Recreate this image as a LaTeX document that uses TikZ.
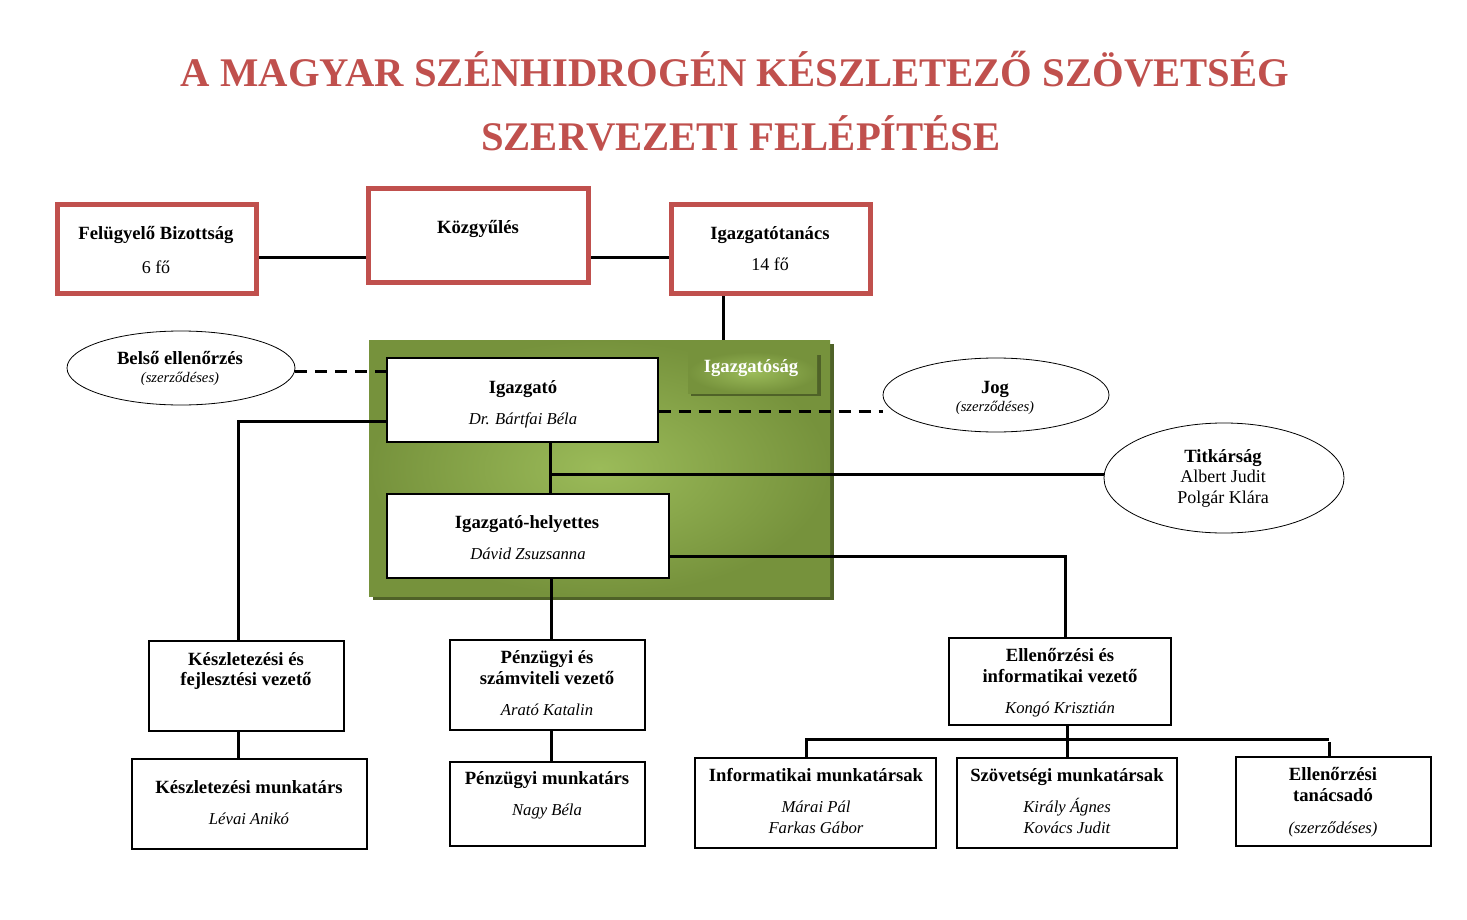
\documentclass[tikz,border=0pt]{standalone}
\usepackage{fontspec}
\setmainfont{Liberation Serif}
\usetikzlibrary{shapes.geometric,fit,backgrounds}
\definecolor{redA}{HTML}{C0504D}
\definecolor{gLight}{HTML}{9BBB59}
\definecolor{gDark}{HTML}{76923C}
\definecolor{gShadow}{HTML}{4F6228}
\begin{document}
\begin{tikzpicture}[x=0.75pt,y=-0.75pt,
  redbox/.style={draw=redA, line width=3.75pt, fill=white, inner sep=0pt},
  wbox/.style={draw=black, line width=0.8pt, fill=white, inner sep=0pt},
  oval/.style={ellipse, draw=black, line width=0.6pt, fill=white, inner sep=0pt},
  conn/.style={line width=2.25pt, black},
  dconn/.style={line width=2.25pt, black, dash pattern=on 9pt off 6pt},
  tb/.style={inner sep=0pt, text height=9.3pt, text depth=0pt, font=\fontsize{14}{16}\selectfont\bfseries},
  tw/.style={tb, text=white},
  ti/.style={inner sep=0pt, text height=8.3pt, text depth=0pt, font=\fontsize{12.5}{15}\selectfont\itshape},
  tr/.style={inner sep=0pt, text height=8.9pt, text depth=0pt, font=\fontsize{13.5}{16}\selectfont},
  ts/.style={inner sep=0pt, text height=7.3pt, text depth=0pt, font=\fontsize{11}{13}\selectfont\itshape},
  ttl/.style={inner sep=0pt, text height=20.2pt, text depth=0pt, font=\fontsize{30.5}{36}\selectfont\bfseries, text=redA}
]
\useasboundingbox (0,0) rectangle (1467,920);

% title
\node[ttl] (t1) at (735,73) {A MAGYAR SZÉNHIDROGÉN KÉSZLETEZŐ SZÖVETSÉG};
\node[ttl] (t2) at (741,137) {SZERVEZETI FELÉPÍTÉSE};

% top red boxes
\node[redbox, fit={(57.5,204.5)(256.5,293.5)}] (fb) {};
\node[tb] (fbt) at (156,233) {Felügyelő Bizottság};
\node[tr] (fbn) at (156,268) {6 fő};

\node[redbox, fit={(368.5,188.5)(588.5,282.5)}] (kgy) {};
\node[tb] (kgyt) at (478,227) {Közgyűlés};

\node[redbox, fit={(671.5,204.5)(870.5,293.5)}] (it) {};
\node[tb] (itt) at (770,233) {Igazgatótanács};
\node[tr] (itn) at (770,265) {14 fő};

% ellipses
\node[oval, minimum width=171pt, minimum height=55.5pt] (bel) at (181,368) {};
\node[tb] (belt) at (180,358) {Belső ellenőrzés};
\node[ts] (bels) at (180,378) {(szerződéses)};

\node[oval, minimum width=169.5pt, minimum height=55.5pt] (jog) at (996,395) {};
\node[tb] (jogt) at (995,387) {Jog};
\node[ts] (jogs) at (995,407) {(szerződéses)};

\node[oval, minimum width=180pt, minimum height=82.5pt] (tit) at (1224,478) {};
\node[tb] (titt) at (1223,456) {Titkárság};
\node[tr] (tit1) at (1223,477) {Albert Judit};
\node[tr] (tit2) at (1223,498) {Polgár Klára};

% Igazgatóság inner boxes
\node[wbox, fit={(387,358)(658,442)}] (igz) {};
\node[tb] (igzt) at (523,387) {Igazgató};
\node[ti] (igzn) at (523,419) {Dr. Bártfai Béla};

\node[wbox, fit={(387,494)(669,578)}] (ih) {};
\node[tb] (iht) at (527,522) {Igazgató-helyettes};
\node[ti] (ihn) at (528,554) {Dávid Zsuzsanna};

% lower boxes
\node[wbox, fit={(149,641)(344,731)}] (kf) {};
\node[tb] (kft1) at (246,659) {Készletezési és};
\node[tb] (kft2) at (246,679) {fejlesztési vezető};

\node[wbox, fit={(132,759)(367,849)}] (km) {};
\node[tb] (kmt) at (249,787) {Készletezési munkatárs};
\node[ti] (kmn) at (249,819) {Lévai Anikó};

\node[wbox, fit={(450,640)(645,730)}] (pv) {};
\node[tb] (pvt1) at (547,657) {Pénzügyi és};
\node[tb] (pvt2) at (547,678) {számviteli vezető};
\node[ti] (pvn) at (547,710) {Arató Katalin};

\node[wbox, fit={(450,762)(645,846)}] (pm) {};
\node[tb] (pmt) at (547,778) {Pénzügyi munkatárs};
\node[ti] (pmn) at (547,810) {Nagy Béla};

\node[wbox, fit={(949,638)(1171,725)}] (ev) {};
\node[tb] (evt1) at (1060,655) {Ellenőrzési és};
\node[tb] (evt2) at (1060,676) {informatikai vezető};
\node[ti] (evn) at (1060,708) {Kongó Krisztián};

\node[wbox, fit={(695,758)(936,848)}] (im) {};
\node[tb] (imt) at (816,775) {Informatikai munkatársak};
\node[ti] (imn1) at (816,807) {Márai Pál};
\node[ti] (imn2) at (816,828) {Farkas Gábor};

\node[wbox, fit={(957,758)(1177,848)}] (sm) {};
\node[tb] (smt) at (1067,775) {Szövetségi munkatársak};
\node[ti] (smn1) at (1067,807) {Király Ágnes};
\node[ti] (smn2) at (1067,828) {Kovács Judit};

\node[wbox, fit={(1236,757)(1431,846)}] (et) {};
\node[tb] (ett1) at (1333,774) {Ellenőrzési};
\node[tb] (ett2) at (1333,795) {tanácsadó};
\node[ti] (etn) at (1333,828) {(szerződéses)};

% coordinates for junctions
\coordinate (tj) at (550,474);
\coordinate (kc) at (238,421);
\coordinate (ec) at (1065,556);
\coordinate (bl) at (806,739);
\coordinate (br) at (1329,739);
\coordinate (brs) at (1329,742);

\begin{scope}[on background layer]
  \fill[white] (0,0) rectangle (1467,920);
  % green Igazgatóság panel
  \fill[gShadow] (373,344) rectangle (834,600);
  \node[inner sep=0pt, fit={(369,340)(830,596)}, shading=radial, inner color=gLight, outer color=gDark] (grn) {};
  \fill[gShadow] (691,355) rectangle (821,396);
  \node[inner sep=0pt, fit={(688,352)(817,393)}, shading=radial, inner color=gLight, outer color=gDark] (lab) {};
  \node[tw] (labt) at (751,366) {Igazgatóság};

  % connectors
  \draw[conn] (fb.east |- 0,257) -- (kgy.west |- 0,257);
  \draw[conn] (kgy.east |- 0,257) -- (it.west |- 0,257);
  \draw[conn] (723,0 |- it.south) -- (723,0 |- grn.north);
  \draw[dconn] (bel.east |- 0,371) -- (igz.west |- 0,371);
  \draw[dconn] (igz.east |- 0,411) -- (jog.west |- 0,411);
  \draw[conn] (550,0 |- igz.south) -- (550,0 |- ih.north);
  \draw[conn] (tj) -- (tj -| tit.west);
  \draw[conn] (igz.west |- kc) -- (kc) -- (kc |- kf.north);
  \draw[conn] (238,0 |- kf.south) -- (238,0 |- km.north);
  \draw[conn] (551,0 |- ih.south) -- (551,0 |- pv.north);
  \draw[conn] (551,0 |- pv.south) -- (551,0 |- pm.north);
  \draw[conn] (ih.east |- ec) -- (ec) -- (ec |- ev.north);
  \draw[conn] (1067,0 |- ev.south) -- (1067,0 |- sm.north);
  \draw[conn] (bl |- im.north) -- (bl) -- (br);
  \draw[conn] (brs) -- (brs |- et.north);
\end{scope}
\end{tikzpicture}
\end{document}
